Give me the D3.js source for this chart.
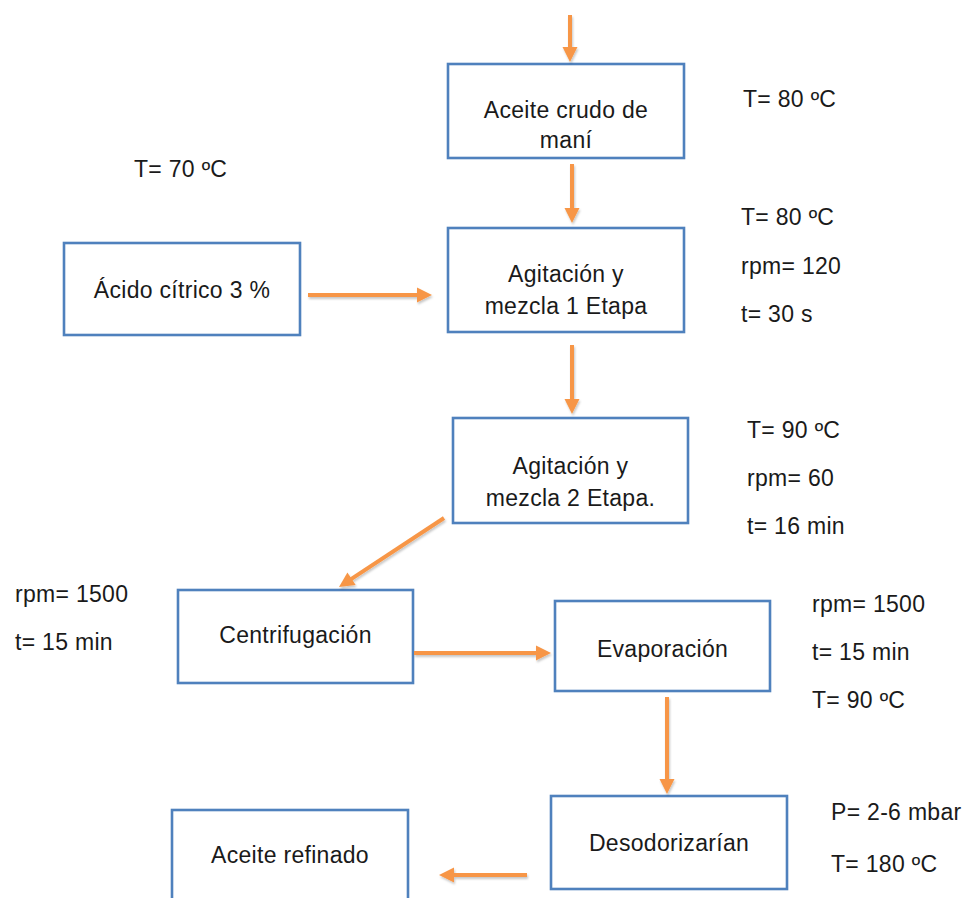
<!DOCTYPE html>
<html>
<head>
<meta charset="utf-8">
<script src="https://cdn.jsdelivr.net/npm/d3@7"></script>
<style>
  html, body { margin: 0; padding: 0; background: #ffffff; }
  svg { display: block; }
  text { font-family: "Liberation Sans", Arial, sans-serif; fill: #1a1a1a; }
</style>
</head>
<body>
<script>
// ---- content ----
const stepIds    = ["crudo", "acido", "etapa1", "etapa2", "centri", "evapo", "desodo", "refinado"];
const stepLabels = [
  ["Aceite crudo de", "maní"],
  ["Ácido cítrico 3 %"],
  ["Agitación y", "mezcla 1 Etapa"],
  ["Agitación y", "mezcla 2 Etapa."],
  ["Centrifugación"],
  ["Evaporación"],
  ["Desodorizarían"],
  ["Aceite refinado"]
];
const conditionGroups = [
  ["T= 80 ºC"],
  ["T= 70 ºC"],
  ["T= 80 ºC", "rpm= 120", "t= 30 s"],
  ["T= 90 ºC", "rpm= 60", "t= 16 min"],
  ["rpm= 1500", "t= 15 min"],
  ["rpm= 1500", "t= 15 min", "T= 90 ºC"],
  ["P= 2-6 mbar", "T= 180 ºC"]
];
const flowLinks = [
  [null, "crudo"],
  ["crudo", "etapa1"],
  ["acido", "etapa1"],
  ["etapa1", "etapa2"],
  ["etapa2", "centri"],
  ["centri", "evapo"],
  ["evapo", "desodo"],
  ["desodo", "refinado"]
];

// ---- layout (page coordinates) ----
const boxLayout = {
  crudo:    {x: 448, y: 64,  w: 236, h: 94,  base: [118, 148]},
  acido:    {x: 64,  y: 243, w: 236, h: 92,  base: [298]},
  etapa1:   {x: 448, y: 228, w: 236, h: 104, base: [282, 314]},
  etapa2:   {x: 453, y: 418, w: 235, h: 105, base: [474, 506]},
  centri:   {x: 178, y: 590, w: 235, h: 93,  base: [643]},
  evapo:    {x: 555, y: 601, w: 215, h: 90,  base: [657]},
  desodo:   {x: 551, y: 796, w: 236, h: 93,  base: [851]},
  refinado: {x: 172, y: 810, w: 236, h: 110, base: [863]}
};
const condLayout = [
  {x: 743, y: 107, dy: 48},
  {x: 134, y: 177, dy: 48},
  {x: 741, y: 225, dy: 48.5},
  {x: 747, y: 438, dy: 48},
  {x: 15,  y: 602, dy: 48},
  {x: 812, y: 612, dy: 48},
  {x: 831, y: 820, dy: 52}
];
const linkLayout = [
  [[570, 15],  [570, 62]],
  [[572, 164], [572, 223]],
  [[308, 295], [432, 295]],
  [[572, 345], [572, 414]],
  [[444, 518], [339, 587]],
  [[414, 653], [551, 653]],
  [[667, 697], [667, 794]],
  [[527, 875], [439, 875]]
];

const W = 966, H = 898;
const svg = d3.select("body").append("svg").attr("width", W).attr("height", H);

const defs = svg.append("defs");
const f = defs.append("filter").attr("id", "shadow").attr("x", "-20%").attr("y", "-20%").attr("width", "140%").attr("height", "160%");
f.append("feDropShadow").attr("dx", 1).attr("dy", 2).attr("stdDeviation", 1.2).attr("flood-color", "#000").attr("flood-opacity", 0.22);

const orange = "#F79646", blue = "#4F81BD";
const fontSize = 23;

// boxes
const boxes = svg.append("g").selectAll("g").data(stepIds).join("g");
boxes.append("rect")
  .attr("x", d => boxLayout[d].x).attr("y", d => boxLayout[d].y)
  .attr("width", d => boxLayout[d].w).attr("height", d => boxLayout[d].h)
  .attr("fill", "#fff").attr("stroke", blue).attr("stroke-width", 2.6);
boxes.each(function(d, i) {
  const L = boxLayout[d];
  d3.select(this).selectAll("text").data(stepLabels[i]).join("text")
    .attr("x", L.x + L.w / 2).attr("y", (t, j) => L.base[j])
    .attr("text-anchor", "middle").attr("font-size", fontSize)
    .attr("letter-spacing", 0.3)
    .text(t => t);
});

// arrows
const arrows = svg.append("g").attr("filter", "url(#shadow)");
flowLinks.forEach((lk, i) => {
  const [p0, p1] = linkLayout[i];
  const dx = p1[0] - p0[0], dy = p1[1] - p0[1];
  const len = Math.hypot(dx, dy);
  const ux = dx / len, uy = dy / len;
  const headL = 15, headW = 7.5;
  const bx = p1[0] - ux * headL, by = p1[1] - uy * headL;
  arrows.append("line")
    .attr("x1", p0[0]).attr("y1", p0[1]).attr("x2", bx + ux * 1).attr("y2", by + uy * 1)
    .attr("stroke", orange).attr("stroke-width", 4);
  const nx = -uy, ny = ux;
  arrows.append("path")
    .attr("d", d3.line()([[p1[0], p1[1]], [bx + nx * headW, by + ny * headW], [bx - nx * headW, by - ny * headW]]) + "Z")
    .attr("fill", orange);
});

// conditions
const conds = svg.append("g").selectAll("g").data(conditionGroups).join("g");
conds.each(function(lines, i) {
  const L = condLayout[i];
  d3.select(this).selectAll("text").data(lines).join("text")
    .attr("x", L.x).attr("y", (t, j) => L.y + j * L.dy)
    .attr("font-size", fontSize).attr("letter-spacing", 0.3)
    .text(t => t);
});
</script>
</body>
</html>
